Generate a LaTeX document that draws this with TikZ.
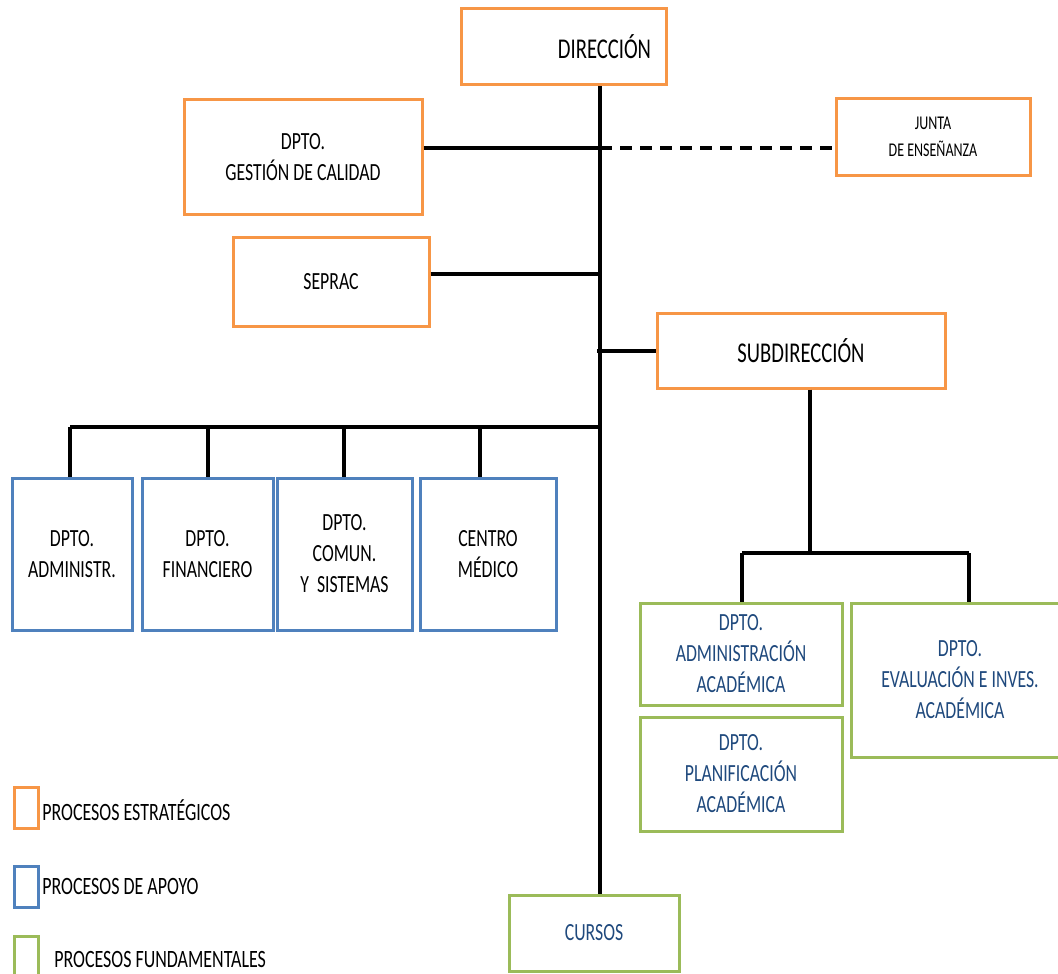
\documentclass[tikz,border=0pt]{standalone}
\usepackage{fontspec}
\setmainfont{Carlito}[FakeStretch=0.72]
\definecolor{orgC}{HTML}{F79646}
\definecolor{bluC}{HTML}{4F81BD}
\definecolor{grnC}{HTML}{9BBB59}
\definecolor{txtB}{HTML}{1F497D}
\begin{document}
\begin{tikzpicture}[x=0.75pt,y=-0.75pt,
  box/.style={draw,line width=2.25pt,fill=white,align=center,inner sep=0pt,
    font=\fontsize{18.5}{23.3}\selectfont},
  obox/.style={box,draw=orgC},
  bbox/.style={box,draw=bluC},
  gbox/.style={box,draw=grnC,text=txtB},
  conn/.style={line width=3pt},
  legtxt/.style={anchor=west,inner sep=0pt,font=\fontsize{18.7}{23}\selectfont}]
\useasboundingbox (0,0) rectangle (1058,974);
% junction coordinates
\coordinate (t) at (600,0);
\coordinate (j1) at (600,148);
\coordinate (j2) at (600,274);
\coordinate (j3) at (597,351);
\coordinate (j4) at (598,427);
\coordinate (d1) at (70,427);
\coordinate (d2) at (208,427);
\coordinate (d3) at (344,427);
\coordinate (d4) at (480,427);
\coordinate (s) at (810,553);
\coordinate (e1) at (742,553);
\coordinate (e2) at (969,553);
% boxes
\node[obox,minimum width={205*0.75pt},minimum height={76*0.75pt}] (dir) at (563.5,47) {};
\node[inner sep=0pt,font=\fontsize{21.5}{25}\selectfont] (dirtxt) at (604.5,47) {DIRECCIÓN};
\node[obox,minimum width={238*0.75pt},minimum height={114*0.75pt}] (gest) at (303,157) {DPTO.\\GESTIÓN DE CALIDAD};
\node[obox,minimum width={194*0.75pt},minimum height={77*0.75pt},font=\fontsize{14.6}{20}\selectfont] (junta) at (933,137) {JUNTA\\DE ENSEÑANZA};
\node[obox,minimum width={196*0.75pt},minimum height={89*0.75pt}] (seprac) at (331,281.5) {SEPRAC};
\node[obox,minimum width={288*0.75pt},minimum height={75*0.75pt},font=\fontsize{21.5}{25}\selectfont] (sub) at (801,350.5) {SUBDIRECCIÓN};
\node[bbox,minimum width={120*0.75pt},minimum height={152*0.75pt}] (b1) at (72,554) {DPTO.\\ADMINISTR.};
\node[bbox,minimum width={131*0.75pt},minimum height={152*0.75pt}] (b2) at (207.5,554) {DPTO.\\FINANCIERO};
\node[bbox,minimum width={135*0.75pt},minimum height={152*0.75pt}] (b3) at (344.5,554) {DPTO.\\COMUN.\\Y\ \ SISTEMAS};
\node[bbox,minimum width={136*0.75pt},minimum height={152*0.75pt}] (b4) at (488,554) {CENTRO\\MÉDICO};
\node[gbox,minimum width={202*0.75pt},minimum height={102*0.75pt}] (g1) at (741,654) {DPTO.\\ADMINISTRACIÓN\\ACADÉMICA};
\node[gbox,minimum width={202*0.75pt},minimum height={114*0.75pt}] (g2) at (741,774) {DPTO.\\PLANIFICACIÓN\\ACADÉMICA};
\node[gbox,minimum width={218*0.75pt},minimum height={154*0.75pt}] (g3) at (960,680) {DPTO.\\EVALUACIÓN E INVES.\\ACADÉMICA};
\node[gbox,minimum width={170*0.75pt},minimum height={76*0.75pt}] (cursos) at (594,933) {CURSOS};
% connectors
\draw[conn] (t |- dir.south) -- (t |- cursos.north);
\draw[conn] (j1 -| gest.east) -- (j1);
\draw[conn,dash pattern=on 9pt off 6pt] (j1) -- (j1 -| junta.west);
\draw[conn] (j2 -| seprac.east) -- (j2);
\draw[conn] (j3) -- (j3 -| sub.west);
\draw[conn] (j4) -- (d1);
\draw[conn] (d1) -- (d1 |- b1.north);
\draw[conn] (d2) -- (d2 |- b2.north);
\draw[conn] (d3) -- (d3 |- b3.north);
\draw[conn] (d4) -- (d4 |- b4.north);
\draw[conn] (s |- sub.south) -- (s);
\draw[conn] (e1) -- (e2);
\draw[conn] (e1) -- (e1 |- g1.north);
\draw[conn] (e2) -- (e2 |- g3.north);
% legend
\node[obox,minimum width={24*0.75pt},minimum height={41*0.75pt}] (l1) at (26,807.5) {};
\node[bbox,minimum width={24*0.75pt},minimum height={41*0.75pt}] (l2) at (26,886.5) {};
\node[gbox,minimum width={24*0.75pt},minimum height={41*0.75pt}] (l3) at (26,956.5) {};
\node[legtxt] (l1t) at (42,810) {PROCESOS ESTRATÉGICOS};
\node[legtxt] (l2t) at (42,886) {PROCESOS DE APOYO};
\node[legtxt] (l3t) at (54,959) {PROCESOS FUNDAMENTALES};
\end{tikzpicture}
\end{document}
